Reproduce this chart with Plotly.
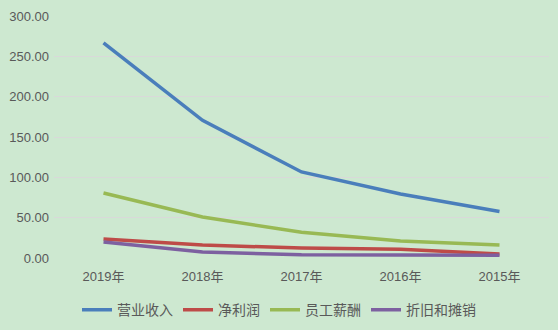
import plotly.graph_objects as go

years = ["2019年", "2018年", "2017年", "2016年", "2015年"]
revenue = [266.7, 170.6, 106.7, 79.4, 57.7]
net_profit = [23.6, 16.0, 12.4, 11.0, 5.0]
staff_pay = [80.6, 50.8, 32.0, 21.0, 16.0]
depreciation = [19.8, 7.4, 4.0, 3.7, 3.5]

series = [
    ("营业收入", revenue, "#4A7EBB"),
    ("净利润", net_profit, "#BE4B48"),
    ("员工薪酬", staff_pay, "#98B954"),
    ("折旧和摊销", depreciation, "#7D60A0"),
]

bg = "#CDE8D0"
font_family = "Liberation Sans, Noto Sans CJK SC, sans-serif"

fig = go.Figure()
for name, vals, color in series:
    fig.add_trace(go.Scatter(
        x=years, y=vals, name=name, mode="lines",
        line=dict(color=color, width=3.5),
    ))

fig.update_layout(
    width=558, height=330,
    paper_bgcolor=bg, plot_bgcolor=bg,
    margin=dict(l=54, r=9, t=16, b=72, autoexpand=False),
    font=dict(family=font_family, size=12, color="#595959"),
    showlegend=True,
    legend=dict(
        orientation="h", xref="container", x=0.5, xanchor="center",
        yref="container", y=0.06, yanchor="middle",
        font=dict(size=14, color="#595959"),
        bgcolor="rgba(0,0,0,0)", itemwidth=30, tracegroupgap=0,
    ),
    xaxis=dict(
        type="category", range=[-0.5, 4.5],
        showgrid=False, showline=False, zeroline=False,
        ticks="", ticklabelstandoff=9,
        tickfont=dict(size=13, color="#595959"),
    ),
    yaxis=dict(
        range=[0, 300], tickvals=[0, 50, 100, 150, 200, 250, 300],
        tickformat=".2f", showgrid=True, gridcolor="#D9D9D9", gridwidth=1,
        zeroline=False, showline=False, ticks="", ticklabelstandoff=4,
        tickfont=dict(size=13, color="#595959"),
    ),
)

fig.write_html("out.html")
